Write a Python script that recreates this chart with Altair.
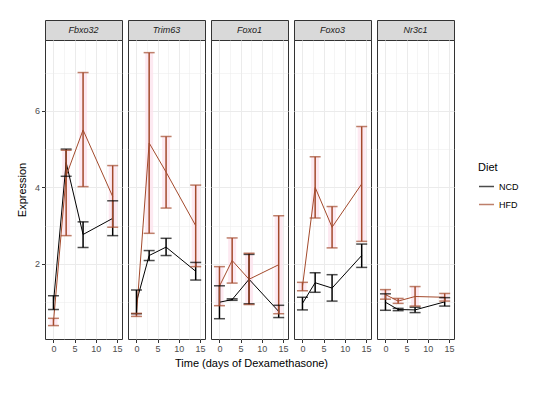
import altair as alt
import pandas as pd

genes = ["Fbxo32", "Trim63", "Foxo1", "Foxo3", "Nr3c1"]
diets = ["NCD", "HFD"]
times = [0, 3, 7, 14]

# rows: genes, columns: times
ncd_mean = [[0.99, 4.65, 2.77, 3.19],
            [1.01, 2.22, 2.44, 1.81],
            [1.00, 1.07, 1.60, 0.76],
            [0.97, 1.51, 1.37, 2.22],
            [1.00, 0.81, 0.80, 1.01]]
ncd_lo = [[0.81, 4.29, 2.43, 2.74],
          [0.70, 2.09, 2.22, 1.58],
          [0.57, 1.05, 0.96, 0.60],
          [0.80, 1.26, 1.03, 1.91],
          [0.79, 0.78, 0.73, 0.90]]
ncd_hi = [[1.17, 5.00, 3.10, 3.65],
          [1.32, 2.35, 2.67, 2.04],
          [1.43, 1.09, 2.25, 0.92],
          [1.13, 1.77, 1.72, 2.52],
          [1.22, 0.84, 0.87, 1.12]]

hfd_mean = [[0.48, 4.30, 5.50, 3.76],
            [0.67, 5.16, 4.40, 3.00],
            [1.42, 2.09, 1.60, 1.98],
            [1.41, 4.00, 2.96, 4.09],
            [1.20, 1.03, 1.15, 1.13]]
hfd_lo = [[0.39, 2.74, 4.02, 2.96],
          [0.63, 2.80, 3.46, 1.93],
          [0.91, 1.50, 0.94, 0.70],
          [1.30, 3.20, 2.42, 2.59],
          [1.08, 0.97, 0.90, 1.03]]
hfd_hi = [[0.58, 4.97, 7.00, 4.57],
          [0.71, 7.52, 5.33, 4.06],
          [1.93, 2.68, 2.28, 3.26],
          [1.52, 4.80, 3.50, 5.59],
          [1.33, 1.10, 1.41, 1.23]]

x_ticks = [0, 2.5, 5, 7.5, 10, 12.5, 15]
y_ticks = [1, 2, 3, 4, 5, 6, 7]

rows = []
for gi, g in enumerate(genes):
    for diet, M, L, Hh in [("NCD", ncd_mean, ncd_lo, ncd_hi), ("HFD", hfd_mean, hfd_lo, hfd_hi)]:
        for ti, t in enumerate(times):
            rows.append(dict(gene=g, diet=diet, time=t, mean=M[gi][ti], lo=L[gi][ti], hi=Hh[gi][ti]))
df = pd.DataFrame(rows)

FONT = "Liberation Sans"
W, H, SH = 77, 299, 20
GRID = "#ebebeb"

color = alt.Color(
    "diet:N",
    scale=alt.Scale(domain=diets, range=["#000000", "#a34a2c"]),
    legend=alt.Legend(
        title="Diet", orient="none", legendX=433, legendY=142,
        symbolType="stroke", symbolStrokeWidth=1.5, symbolSize=225,
        titleFontSize=11, titleFontWeight="normal", titleColor="#000000",
        labelFontSize=9, labelColor="#000000", rowPadding=4, titlePadding=5,
    ),
)

xscale = alt.Scale(domain=[-2, 16.2], nice=False, zero=False)
yscale = alt.Scale(domain=[0.04, 7.85], nice=False, zero=False)


def xaxis():
    return alt.Axis(
        values=x_ticks, format="d", title=None,
        labelExpr="datum.value % 5 == 0 ? datum.label : ''",
        grid=True, gridColor=GRID,
        gridWidth={"condition": {"test": "datum.value % 5 != 0", "value": 0.5}, "value": 1},
        domain=False, tickColor="#333333", tickSize=3.5,
        tickOpacity={"condition": {"test": "datum.value % 5 != 0", "value": 0}, "value": 1},
        labelColor="#4d4d4d", labelFontSize=9, labelPadding=1.5,
    )


def yaxis(first):
    kw = dict(
        values=y_ticks,
        grid=True, gridColor=GRID,
        gridWidth={"condition": {"test": "datum.value % 2 != 0", "value": 0.5}, "value": 1},
        domain=False,
    )
    if first:
        kw.update(
            title="Expression",
            labelExpr="datum.value % 2 == 0 ? datum.label : ''",
            tickColor="#333333", tickSize=3.5,
            tickOpacity={"condition": {"test": "datum.value % 2 != 0", "value": 0}, "value": 1},
            labelColor="#4d4d4d", labelFontSize=9, labelPadding=2,
            titleFontSize=11, titleFontWeight="normal", titleColor="#000000", titlePadding=7,
        )
    else:
        kw.update(title=None, labels=False, ticks=False)
    return alt.Axis(**kw)


cols = []
for i, g in enumerate(genes):
    d = df[df.gene == g]
    base = alt.Chart(d)
    x = alt.X("time:Q", scale=xscale, axis=xaxis())
    y_kw = dict(scale=yscale, axis=yaxis(i == 0))

    halo = base.transform_filter("datum.diet == 'HFD'").mark_rule(
        strokeWidth=8, color="#fde3ee", opacity=0.8
    ).encode(x=x, y=alt.Y("lo:Q", **y_kw), y2="hi:Q")
    line = base.mark_line(strokeWidth=1).encode(x=x, y=alt.Y("mean:Q", **y_kw), color=color)
    rule = base.mark_rule(strokeWidth=1.5).encode(
        x=x, y=alt.Y("lo:Q", **y_kw), y2="hi:Q", color=color
    )
    caps = base.transform_fold(["lo", "hi"], as_=["k", "v"]).mark_tick(
        orient="horizontal", size=11, thickness=1.5
    ).encode(x=x, y=alt.Y("v:Q", **y_kw), color=color)

    panel = alt.layer(halo, line, rule, caps).properties(width=W, height=H)

    strip = alt.Chart(pd.DataFrame({"gene": [g]})).mark_text(
        fontStyle="italic", fontSize=9, font=FONT, color="#1a1a1a"
    ).encode(
        text="gene:N", x=alt.value(W / 2), y=alt.value(SH / 2)
    ).properties(width=W, height=SH, view=alt.ViewBackground(fill="#d9d9d9", stroke="#333333"))

    cols.append(alt.vconcat(strip, panel, spacing=0, bounds="flush"))

chart = alt.hconcat(*cols, spacing=4).properties(
    padding={"left": 7, "top": 11, "right": 5, "bottom": 5},
    background="white",
    title=alt.TitleParams(
        "Time (days of Dexamethasone)", orient="bottom", anchor="middle",
        fontSize=11, fontWeight="normal", font=FONT, color="#000000", offset=4, dx=-16,
    ),
).configure_view(stroke="#333333", strokeWidth=1).configure_axis(
    labelFont=FONT, titleFont=FONT
).configure_legend(labelFont=FONT, titleFont=FONT).configure_text(font=FONT)

chart.save("out.html", embed_options={"renderer": "svg", "actions": False})
